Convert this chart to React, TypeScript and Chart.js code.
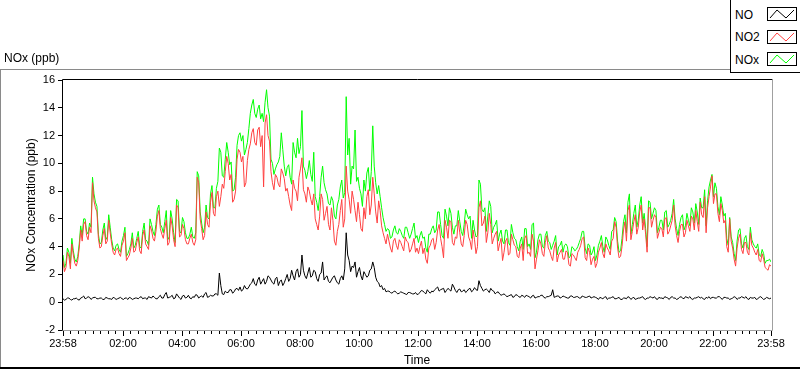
import React, { useEffect, useRef } from 'react';
import { Chart, registerables } from 'chart.js';

Chart.register(...registerables);

// Readings from 23:58 (minute 0) to 23:58 next day (minute 1440).
// "OnMark" arrays: minutes 0, 6, 12, ... 1440. "Between" arrays: minutes 3, 9, 15, ... 1437.
const sampleStepMinutes = 6;

const noOnMark = [
  0.25,0.2,0.3,0.15,0.25,0.2,0.3,0.45,0.3,0.35, 0.3,0.35,0.25,0.3,0.2,0.3,0.25,0.35,0.2,0.3,
  0.25,0.3,0.2,0.3,0.25,0.3,0.35,0.25,0.3,0.4, 0.3,0.35,0.25,0.5,0.3,0.7,0.35,0.5,0.3,0.45,
  0.2,0.5,0.35,0.3,0.4,0.55,0.3,0.45,0.6,0.35, 0.5,0.45,0.6,2.1,0.6,0.8,0.7,0.9,0.75,1.0,
  1.1,
  0.9,1.0,1.1,1.4,1.3,1.6,1.3,1.7,1.5,1.8, 1.4,1.7,1.2,1.6,1.4,2.0,1.7,1.9,2.2,1.8,
  3.4,1.9,2.1,1.8,2.3,1.7,2.0,2.9,1.8,1.5, 1.6,1.9,1.4,1.7,1.6,5.0,3.0,2.6,2.9,2.2,
  1.9,2.2,1.8,2.3,2.9,1.8,1.4,1.2,1.0,0.8, 0.7,0.75,0.7,0.65,0.7,0.6,0.7,0.65,0.6,0.55,
  0.7,0.8,0.6,0.75,0.8,0.9,1.1,0.9,1.0,0.85, 0.9,1.3,0.85,0.9,0.75,0.9,0.8,1.0,0.85,0.9,
  1.55,1.0,0.9,0.85,1.0,0.8,0.7,0.6,0.55,0.5, 0.45,0.55,0.4,0.5,0.35,0.45,0.5,0.4,0.45,0.3,
  0.4,0.5,0.35,0.4,0.45,0.9,0.4,0.45,0.35,0.4, 0.3,0.45,0.35,0.4,0.3,0.45,0.35,0.4,0.3,0.4,
  0.3,0.35,0.25,0.4,0.3,0.35,0.25,0.3,0.2,0.3, 0.25,0.35,0.3,0.2,0.3,0.35,0.25,0.3,0.4,0.3,
  0.25,0.35,0.3,0.4,0.3,0.35,0.3,0.2,0.35,0.3, 0.4,0.3,0.25,0.3,0.35,0.3,0.25,0.35,0.4,0.35,
  0.3,0.4,0.3,0.35,0.3,0.2,0.3,0.35,0.3,0.4, 0.3,0.25,0.35,0.3,0.2,0.35,0.3,0.25,0.3,0.3,
];
const noBetween = [
  0.15,0.3,0.2,0.25,0.3, 0.15,0.35,0.25,0.4,0.2, 0.35,0.25,0.3,0.2,0.35, 0.25,0.2,0.3,0.25,0.35,
  0.2,0.3,0.35,0.2,0.3, 0.25,0.4,0.3,0.2,0.35, 0.45,0.25,0.4,0.3,0.55, 0.3,0.4,0.25,0.6,0.3,
  0.45,0.3,0.5,0.25,0.35, 0.5,0.4,0.35,0.7,0.4, 0.45,0.6,0.5,1.2,0.55, 0.7,0.9,0.65,0.95,0.85,
  0.8,1.2,0.95,1.3,1.7, 1.2,1.8,1.5,1.3,1.9, 1.6,1.3,1.8,1.5,1.2, 1.7,1.5,2.3,1.6,2.4,
  2.0,2.3,1.7,2.5,1.9, 2.2,1.5,2.1,1.6,1.9, 1.4,1.8,1.6,1.3,1.9, 2.4,3.4,2.2,2.5,1.8,
  2.5,1.6,2.0,1.9,2.4, 2.5,1.5,1.1,0.9,0.75, 0.8,0.65,0.8,0.6,0.75, 0.65,0.55,0.7,0.6,0.7,
  0.6,0.85,0.7,0.9,0.65, 0.75,1.0,0.8,0.95,0.7, 1.0,0.8,1.1,0.7,0.95, 0.8,0.7,0.95,0.75,1.05,
  0.85,1.2,0.8,0.95,0.7, 0.85,0.6,0.75,0.5,0.6, 0.4,0.5,0.35,0.55,0.4, 0.5,0.35,0.45,0.3,0.5,
  0.35,0.4,0.5,0.3,0.4, 0.5,0.35,0.45,0.3,0.45, 0.35,0.3,0.45,0.35,0.4, 0.3,0.4,0.35,0.45,0.35,
  0.35,0.2,0.3,0.35,0.2, 0.3,0.4,0.25,0.35,0.2, 0.3,0.4,0.2,0.35,0.25, 0.3,0.4,0.2,0.3,0.35,
  0.4,0.2,0.3,0.25,0.35, 0.2,0.4,0.3,0.25,0.4, 0.25,0.35,0.4,0.2,0.3, 0.4,0.35,0.2,0.3,0.25,
  0.35,0.3,0.4,0.2,0.35, 0.3,0.25,0.4,0.2,0.3, 0.35,0.4,0.2,0.3,0.35, 0.25,0.4,0.2,0.35,0.25,
];

const no2OnMark = [
  3.0,2.5,3.3,4.2,2.8,3.0,5.2,5.6,4.8,5.4, 8.6,6.8,4.6,4.0,5.3,4.4,5.0,3.6,3.8,3.5,
  4.1,5.0,3.2,3.9,3.6,4.3,3.7,4.8,4.2,3.8, 5.2,4.4,6.2,5.3,4.6,5.9,4.3,5.5,4.0,6.8,
  4.8,5.3,4.2,4.6,4.3,4.5,8.6,5.3,4.8,5.6, 7.2,6.4,7.6,6.9,8.5,9.4,10.0,9.2,7.4,10.3,
  10.8,
  10.5,8.6,11.0,12.2,11.5,12.4,11.2,8.3,13.5,11.6, 8.6,9.2,8.5,9.6,8.9,8.2,7.0,8.8,8.0,9.0,
  10.4,7.8,8.3,7.4,7.8,5.6,6.2,7.4,6.4,5.6, 6.8,4.4,5.1,6.6,5.4,9.8,7.4,8.0,6.6,7.2,
  5.3,6.8,7.6,6.3,9.0,6.5,7.3,5.5,4.6,4.9, 3.9,4.4,4.1,4.5,4.0,4.7,4.3,3.8,4.6,3.9,
  4.0,3.5,3.1,3.9,4.5,3.8,5.2,4.6,3.2,5.4, 5.9,4.3,4.7,5.9,4.2,4.8,5.6,4.4,5.2,3.5,
  6.8,5.5,6.2,5.0,5.6,4.6,5.1,4.2,3.0,4.4, 3.4,4.9,4.1,3.3,3.9,3.0,4.8,3.6,4.9,2.4,
  3.7,4.2,3.3,4.8,3.7,3.0,4.3,3.4,3.8,3.1, 3.6,2.6,3.4,3.0,3.8,4.6,3.2,3.9,2.7,3.3,
  2.8,3.9,3.5,4.2,3.7,4.4,5.8,3.9,3.3,5.2, 4.4,7.0,5.1,6.3,5.4,7.0,6.0,3.6,6.8,5.9,
  6.1,5.0,5.3,6.0,4.9,5.5,7.0,4.8,5.1,5.6, 5.0,5.5,6.2,5.2,5.8,7.2,6.1,5.0,7.6,9.1,
  7.8,6.4,7.1,5.7,4.0,6.0,3.9,2.6,4.6,3.8, 4.3,3.6,5.0,3.9,3.4,3.0,3.5,2.5,2.3,2.6,
];
const no2Between = [
  2.2,3.6,2.4,3.4,2.6, 3.9,4.4,5.8,4.5,5.0, 7.3,6.5,3.9,4.8,4.2, 5.9,4.2,3.4,3.9,3.3,
  4.4,3.0,3.4,4.6,3.7, 4.7,3.5,5.2,4.0,5.5, 4.6,5.1,6.6,4.9,5.3, 4.1,6.1,4.5,7.0,4.7,
  5.6,4.5,4.2,4.9,4.1, 9.0,6.0,4.5,6.5,5.4, 7.9,6.2,8.0,7.6,8.2, 10.5,8.8,7.2,8.0,11.0,
  10.1,8.3,10.2,11.4,12.5, 11.3,12.6,12.0,12.9,12.0, 9.4,8.1,9.0,8.3,9.3, 8.0,7.6,6.6,8.2,7.3,
  9.6,8.1,7.2,8.0,7.0, 6.0,5.2,7.8,5.9,6.9, 5.2,5.9,4.1,5.6,7.4, 6.0,8.0,6.4,7.4,5.8,
  6.3,5.1,6.0,8.1,7.0, 7.8,5.7,6.6,5.0,4.2, 4.4,3.6,4.6,3.8,4.3, 3.7,4.4,3.6,4.2,3.6,
  3.5,4.4,3.9,2.8,4.1, 4.6,4.3,5.6,4.0,5.9, 4.6,5.8,4.1,4.6,5.0, 4.0,5.9,4.7,3.8,4.5,
  4.0,7.3,5.7,4.3,6.4, 4.2,4.9,3.7,4.6,3.6, 4.6,3.5,4.5,4.0,3.2, 4.2,4.6,3.5,3.3,4.4,
  3.1,4.5,3.5,4.3,3.9, 3.3,3.9,2.9,3.6,3.1, 3.7,2.7,3.5,3.2,3.6, 4.1,4.7,3.0,3.6,3.1,
  2.5,3.6,4.3,3.2,3.9, 3.4,4.6,5.4,3.2,4.0, 5.8,6.6,4.5,5.8,4.9, 6.5,5.2,4.9,6.8,5.4,
  6.3,4.6,5.4,4.7,6.1, 5.1,5.9,5.5,4.3,5.6, 4.7,5.9,5.1,6.0,6.6, 5.1,6.3,7.6,6.8,8.3,
  7.1,7.8,5.8,6.6,5.9, 3.6,4.4,3.1,3.9,4.9, 3.5,4.3,3.4,4.1,3.6, 3.8,2.9,3.1,2.4,2.7,
];

const noxOnMark = [
  3.4,2.8,3.6,4.6,3.1,3.3,5.5,6.0,5.1,5.7, 9.0,7.2,4.9,4.3,5.7,4.7,5.4,3.9,4.1,3.8,
  4.4,5.4,3.5,4.2,3.9,4.6,4.0,5.1,4.5,4.1, 5.6,4.8,6.7,5.6,5.0,6.6,4.7,6.0,4.3,7.3,
  5.0,5.8,4.6,4.9,4.7,5.0,9.1,5.7,5.4,6.1, 7.8,6.8,8.2,11.1,9.1,10.3,10.8,10.1,8.1,11.3,
  12.2,
  12.0,11.0,12.5,14.2,13.6,13.9,13.2,13.0,15.3,13.4, 10.0,9.6,10.1,12.2,9.8,9.7,9.0,11.5,10.4,10.7,
  13.8,9.5,9.4,9.2,10.8,7.2,7.6,9.8,8.1,7.1, 7.6,6.2,7.0,8.3,7.5,14.8,11.8,9.8,12.4,9.0,
  7.8,8.8,9.3,8.0,12.7,8.6,8.4,6.8,5.6,5.3, 4.6,5.2,5.0,5.3,4.8,5.4,5.0,4.9,5.7,4.8,
  4.8,4.6,3.9,4.9,5.3,5.0,6.5,5.6,4.6,6.2, 6.8,5.4,5.5,6.6,5.1,5.6,6.3,6.2,5.9,4.7,
  8.8,6.7,6.8,6.2,6.9,5.4,5.9,4.9,4.4,5.2, 4.3,5.6,4.6,4.0,4.4,3.8,5.3,4.2,5.6,3.2,
  4.5,4.9,3.9,5.1,4.3,4.1,4.8,4.0,4.4,4.1, 4.0,3.3,3.9,3.8,4.3,5.1,3.9,4.2,3.4,4.0,
  3.4,4.4,4.0,4.7,4.1,5.1,6.1,4.4,3.7,5.8, 5.0,7.8,5.6,7.0,5.9,7.6,6.4,4.0,7.2,6.4,
  6.6,5.4,5.9,6.5,5.4,5.9,7.4,5.3,5.6,6.3, 5.5,5.9,6.8,5.7,6.5,7.5,6.8,5.5,8.3,9.2,
  8.6,6.9,7.6,6.2,4.6,6.1,4.3,3.0,5.2,4.2, 4.6,4.0,5.4,4.2,3.9,3.4,3.8,2.8,3.0,2.9,
];
const noxBetween = [
  2.5,3.9,2.8,3.7,2.9, 4.2,4.8,6.0,4.9,5.4, 7.8,6.9,4.2,5.2,4.5, 6.3,4.5,3.7,4.2,3.6,
  4.8,3.3,3.8,5.0,4.1, 5.1,3.9,5.7,4.4,6.0, 5.1,5.6,7.0,5.4,5.8, 4.5,6.6,5.0,7.4,5.1,
  6.1,5.0,4.6,5.4,4.6, 9.4,6.5,5.0,7.0,6.0, 8.4,6.8,8.7,10.8,9.0, 11.5,9.9,8.0,9.0,12.0,
  11.6,10.6,11.5,13.6,14.6, 13.3,14.2,13.6,14.4,14.0, 10.3,9.2,9.9,10.5,11.0, 9.1,9.9,8.5,10.8,11.8,
  11.2,9.8,8.9,10.2,8.7, 7.6,6.6,9.0,8.6,7.8, 7.0,7.3,6.0,7.4,8.8, 7.9,10.6,8.5,9.6,8.7,
  8.2,6.9,8.0,9.7,9.4, 9.8,7.8,7.6,6.1,5.1, 5.2,4.7,5.5,4.9,5.1, 4.6,5.4,4.6,5.3,4.6,
  4.3,5.1,4.7,3.6,4.9, 5.5,5.2,6.5,4.8,6.7, 5.5,6.4,4.9,5.5,5.8, 4.8,6.7,6.0,4.6,5.2,
  4.8,8.5,6.5,5.1,7.3, 5.0,5.6,4.4,5.2,4.2, 5.2,4.1,5.0,4.5,3.7, 4.7,5.3,4.0,3.8,5.7,
  3.6,4.9,4.0,4.8,4.4, 3.8,4.4,3.4,4.1,3.6, 4.2,3.2,4.0,3.7,4.0, 4.6,5.1,3.5,4.1,3.6,
  3.0,4.1,4.8,3.6,4.5, 3.8,5.2,5.8,3.6,4.6, 6.3,7.2,4.9,6.4,5.4, 7.0,5.7,5.3,7.3,6.0,
  6.8,5.0,5.9,5.2,6.6, 5.6,6.4,6.0,4.8,6.1, 5.2,6.4,5.5,6.5,7.1, 5.6,6.8,8.1,7.3,8.8,
  7.6,8.2,6.3,7.0,6.4, 4.1,4.7,3.5,4.4,5.3, 3.9,4.8,3.8,4.5,4.0, 4.2,3.3,3.5,3.0,3.1,
];

const majorTickMinutes = [0, 122, 242, 362, 482, 602, 722, 842, 962, 1082, 1202, 1322, 1440];
const majorTickLabels = ['23:58', '02:00', '04:00', '06:00', '08:00', '10:00', '12:00', '14:00', '16:00', '18:00', '20:00', '22:00', '23:58'];

const seriesNames = ['NO', 'NO2', 'NOx'];
const seriesColors = ['#000000', '#ff4040', '#00ff00'];

const yMin = -2;
const yMax = 16;
const yStep = 2;

const FONT = "'Liberation Sans', Arial, sans-serif";

function toPoints(onMark: number[], between: number[]) {
  const pts: { x: number; y: number }[] = [];
  for (let i = 0; i < onMark.length; i++) {
    pts.push({ x: i * sampleStepMinutes, y: onMark[i] });
    if (i < between.length) pts.push({ x: i * sampleStepMinutes + sampleStepMinutes / 2, y: between[i] });
  }
  return pts;
}

const decorPlugin = {
  id: 'decor',
  afterDraw(chart: any) {
    const { ctx, chartArea: a, scales } = chart;
    const xs = scales.x;
    ctx.save();
    ctx.lineWidth = 1;
    ctx.strokeStyle = '#000';
    ctx.beginPath();
    for (const t of xs.ticks) {
      const px = Math.round(xs.getPixelForValue(t.value)) + 0.5;
      const major = majorTickMinutes.includes(t.value);
      ctx.moveTo(px, a.bottom + 1);
      ctx.lineTo(px, a.bottom + 1 + (major ? 5 : 3));
    }
    ctx.stroke();
    ctx.beginPath();
    ctx.strokeStyle = '#000';
    ctx.moveTo(a.left - 0.5, a.bottom + 0.5);
    ctx.lineTo(a.left - 0.5, a.top - 0.5);
    ctx.lineTo(a.right + 1.5, a.top - 0.5);
    ctx.stroke();
    ctx.beginPath();
    ctx.strokeStyle = '#a0a0a0';
    ctx.moveTo(a.right + 1.5, a.top - 0.5);
    ctx.lineTo(a.right + 1.5, a.bottom + 0.5);
    ctx.lineTo(a.left - 0.5, a.bottom + 0.5);
    ctx.stroke();
    ctx.restore();
  },
};

function LegendIcon({ color }: { color: string }) {
  return (
    <svg width={30} height={14} style={{ display: 'block' }}>
      <rect x={0.5} y={0.5} width={29} height={13} fill="#fff" stroke="#000" />
      <polyline points="3,11 10,3 19,11 27,3" fill="none" stroke={color} strokeWidth={1} />
    </svg>
  );
}

export default function App() {
  const canvasRef = useRef<HTMLCanvasElement | null>(null);

  useEffect(() => {
    document.body.style.margin = '0';
    const canvas = canvasRef.current;
    if (!canvas) return;
    Chart.defaults.font.family = FONT;
    const series = [
      toPoints(noOnMark, noBetween),
      toPoints(no2OnMark, no2Between),
      toPoints(noxOnMark, noxBetween),
    ];
    const chart = new Chart(canvas, {
      type: 'line',
      data: {
        datasets: seriesNames.map((name, i) => ({
          label: name,
          data: series[i],
          borderColor: seriesColors[i],
          backgroundColor: seriesColors[i],
          borderWidth: 1,
          pointRadius: 0,
          tension: 0,
          fill: false,
        })),
      },
      options: {
        responsive: false,
        animation: false,
        events: [],
        layout: { padding: { left: 0, top: 80, right: 29, bottom: 0 } },
        plugins: {
          legend: { display: false },
          tooltip: { enabled: false },
          title: { display: false },
        },
        scales: {
          x: {
            type: 'linear',
            min: 0,
            max: 1440,
            afterBuildTicks: (scale: any) => {
              const ticks: { value: number }[] = [];
              for (let i = 0; i < majorTickMinutes.length; i++) {
                ticks.push({ value: majorTickMinutes[i] });
                if (i < majorTickMinutes.length - 1) {
                  const a = majorTickMinutes[i];
                  const b = majorTickMinutes[i + 1];
                  for (let k = 1; k < 8; k++) ticks.push({ value: a + ((b - a) * k) / 8 });
                }
              }
              scale.ticks = ticks;
            },
            afterFit: (scale: any) => {
              scale.height = 39;
            },
            ticks: {
              autoSkip: false,
              maxRotation: 0,
              minRotation: 0,
              padding: 7,
              color: '#000',
              font: { size: 11, family: FONT },
              callback: (value: any) => {
                const idx = majorTickMinutes.indexOf(Number(value));
                return idx >= 0 ? majorTickLabels[idx] : '';
              },
            },
            grid: { display: true, drawOnChartArea: false, drawTicks: false, tickLength: 0 },
            border: { display: false },
            title: {
              display: true,
              text: 'Time',
              color: '#000',
              font: { size: 12, family: FONT },
              padding: { top: 0, bottom: 1 },
            },
          },
          y: {
            type: 'linear',
            min: yMin,
            max: yMax,
            afterFit: (scale: any) => {
              scale.width = 63;
            },
            ticks: {
              stepSize: yStep,
              padding: 3,
              color: '#000',
              font: { size: 11, family: FONT },
            },
            grid: {
              display: true,
              drawOnChartArea: false,
              drawTicks: true,
              tickLength: 5,
              tickColor: '#000',
            },
            border: { display: false },
            title: {
              display: true,
              text: 'NOx Concentration (ppb)',
              color: '#000',
              font: { size: 12, family: FONT },
              padding: { top: 24, bottom: 0 },
            },
          },
        },
      },
      plugins: [decorPlugin],
    } as any);
    return () => chart.destroy();
  }, []);

  const textStyle: React.CSSProperties = {
    position: 'absolute',
    fontFamily: FONT,
    fontSize: 12,
    lineHeight: '14px',
    color: '#000',
    whiteSpace: 'nowrap',
  };

  return (
    <div style={{ position: 'fixed', left: 0, top: 0, width: 800, height: 369, background: '#fff', overflow: 'hidden' }}>
      <canvas ref={canvasRef} width={800} height={369} style={{ position: 'absolute', left: 0, top: 0, width: 800, height: 369 }} />
      <div style={{ position: 'absolute', left: 0, top: 69, width: 730, height: 1, background: '#8a8a8a' }} />
      <div style={{ position: 'absolute', left: 0, top: 69, width: 1, height: 299, background: '#8a8a8a' }} />
      <div style={{ position: 'absolute', left: 0, top: 367, width: 800, height: 2, background: '#000' }} />
      <div style={{ ...textStyle, left: 4, top: 51 }}>NOx (ppb)</div>
      <div
        style={{
          position: 'absolute',
          left: 730,
          top: 0,
          width: 70,
          height: 73,
          boxSizing: 'border-box',
          borderLeft: '1px solid #000',
          borderBottom: '1px solid #000',
          background: '#fff',
        }}
      >
        {seriesNames.map((name, i) => (
          <React.Fragment key={name}>
            <div style={{ ...textStyle, left: 4, top: 7.5 + i * 22.5 }}>{name}</div>
            <div style={{ position: 'absolute', left: 36, top: 7 + i * 22.5 }}>
              <LegendIcon color={seriesColors[i]} />
            </div>
          </React.Fragment>
        ))}
      </div>
    </div>
  );
}
